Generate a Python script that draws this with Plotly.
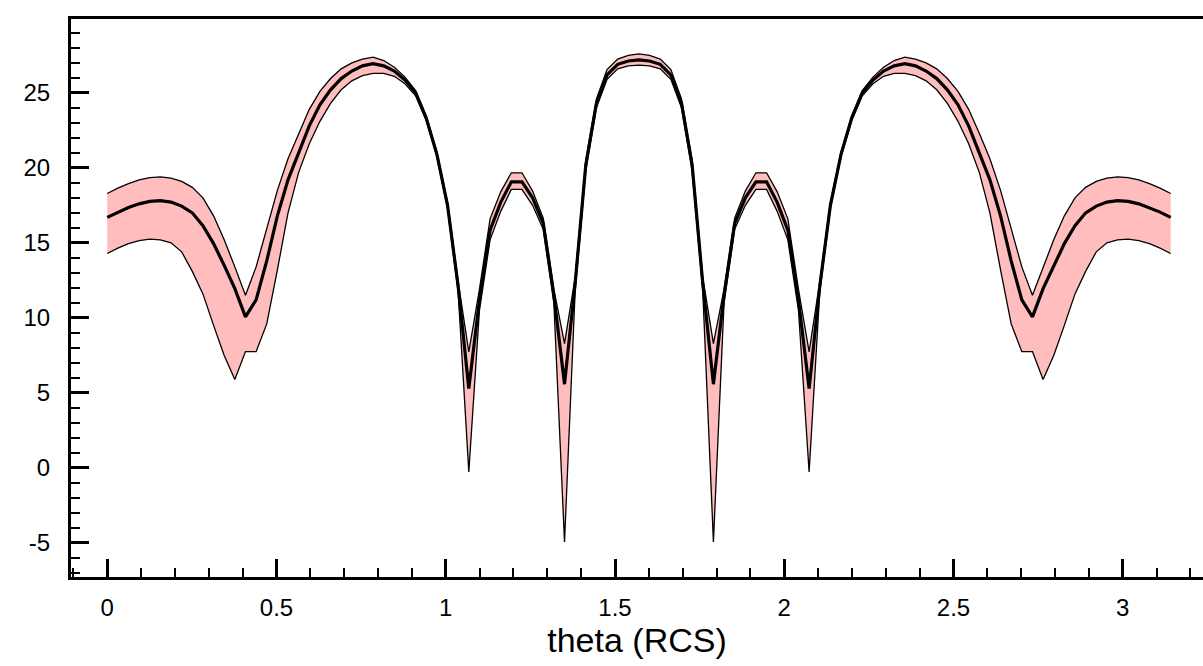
import numpy as np
import plotly.graph_objects as go

# Sample grid: 101 look angles from 0 to pi
theta = np.linspace(0.0, np.pi, 101)

# Mean RCS (dB) and the upper / lower envelope of the spread
rcs_mean = [
    16.70, 17.05, 17.35, 17.60, 17.76, 17.82, 17.72, 17.45, 17.00, 16.15,
    14.95, 13.50, 11.95, 10.07, 11.20, 13.80, 16.80, 19.20, 21.00, 22.80,
    24.20, 25.20, 25.95, 26.45, 26.80, 26.95, 26.80, 26.45, 25.85, 25.00,
    23.30, 20.90, 17.50, 12.10, 5.29, 11.20, 15.85, 17.70, 19.07, 19.07,
    18.00, 16.30, 11.50, 5.58, 12.30, 20.20, 24.30, 26.20, 26.90, 27.12,
    27.20,
    27.12, 26.90, 26.20, 24.30, 20.20, 12.30, 5.58, 11.50, 16.30, 18.00,
    19.07, 19.07, 17.70, 15.85, 11.20, 5.29, 12.10, 17.50, 20.90, 23.30,
    25.00, 25.85, 26.45, 26.80, 26.95, 26.80, 26.45, 25.95, 25.20, 24.20,
    22.80, 21.00, 19.20, 16.80, 13.80, 11.20, 10.07, 11.95, 13.50, 14.95,
    16.15, 17.00, 17.45, 17.72, 17.82, 17.76, 17.60, 17.35, 17.05, 16.70,
]

rcs_upper = [
    18.29, 18.65, 18.95, 19.20, 19.35, 19.40, 19.32, 19.10, 18.70, 18.00,
    16.80, 15.20, 13.40, 11.51, 13.40, 15.90, 18.50, 20.60, 22.30, 23.90,
    25.10, 25.95, 26.60, 27.00, 27.25, 27.38, 27.15, 26.70, 26.05, 25.15,
    23.45, 21.05, 17.70, 12.40, 7.73, 11.90, 16.60, 18.40, 19.67, 19.67,
    18.45, 16.65, 11.90, 8.29, 12.70, 20.50, 24.60, 26.55, 27.25, 27.50,
    27.60,
    27.50, 27.25, 26.55, 24.60, 20.50, 12.70, 8.29, 11.90, 16.65, 18.45,
    19.67, 19.67, 18.40, 16.60, 11.90, 7.73, 12.40, 17.70, 21.05, 23.45,
    25.15, 26.05, 26.70, 27.15, 27.38, 27.25, 27.00, 26.60, 25.95, 25.10,
    23.90, 22.30, 20.60, 18.50, 15.90, 13.40, 11.51, 13.40, 15.20, 16.80,
    18.00, 18.70, 19.10, 19.32, 19.40, 19.35, 19.20, 18.95, 18.65, 18.29,
]

rcs_lower = [
    14.29, 14.65, 14.95, 15.15, 15.25, 15.20, 15.00, 14.40, 13.10, 11.60,
    9.50, 7.50, 5.90, 7.75, 7.75, 9.60, 13.20, 17.00, 19.70, 21.60,
    23.10, 24.30, 25.20, 25.80, 26.15, 26.30, 26.30, 26.10, 25.60, 24.80,
    23.15, 20.75, 17.30, 11.70, -0.27, 10.50, 15.20, 17.10, 18.56, 18.56,
    17.50, 15.90, 11.00, -4.93, 11.80, 19.80, 24.00, 25.90, 26.60, 26.80,
    26.85,
    26.80, 26.60, 25.90, 24.00, 19.80, 11.80, -4.93, 11.00, 15.90, 17.50,
    18.56, 18.56, 17.10, 15.20, 10.50, -0.27, 11.70, 17.30, 20.75, 23.15,
    24.80, 25.60, 26.10, 26.30, 26.30, 26.15, 25.80, 25.20, 24.30, 23.10,
    21.60, 19.70, 17.00, 13.20, 9.60, 7.75, 7.75, 5.90, 7.50, 9.50,
    11.60, 13.10, 14.40, 15.00, 15.20, 15.25, 15.15, 14.95, 14.65, 14.29,
]

x_tick_vals = [0, 0.5, 1, 1.5, 2, 2.5, 3]
x_tick_text = ["0", "0.5", "1", "1.5", "2", "2.5", "3"]
y_tick_vals = [-5, 0, 5, 10, 15, 20, 25]
y_tick_text = ["-5", "0", "5", "10", "15", "20", "25"]

FONT = "Liberation Sans, Arial, Helvetica, sans-serif"
BAND_FILL = "#ffbdbd"

fig = go.Figure()

# lower envelope
fig.add_trace(go.Scatter(
    x=theta, y=rcs_lower, mode="lines",
    line=dict(color="black", width=1.3),
    showlegend=False, hoverinfo="skip",
))
# upper envelope, shaded down to the lower one
fig.add_trace(go.Scatter(
    x=theta, y=rcs_upper, mode="lines",
    fill="tonexty", fillcolor=BAND_FILL,
    line=dict(color="black", width=1.3),
    showlegend=False, hoverinfo="skip",
))
# mean curve
fig.add_trace(go.Scatter(
    x=theta, y=rcs_mean, mode="lines",
    line=dict(color="black", width=3.2),
    showlegend=False,
))

fig.update_layout(
    width=1203, height=666,
    margin=dict(l=71, r=0, t=19, b=89),
    paper_bgcolor="white", plot_bgcolor="white",
    font=dict(family=FONT, size=24, color="black"),
)

fig.update_xaxes(
    range=[-0.107, 3.237],
    showgrid=False, zeroline=False,
    showline=True, linecolor="black", linewidth=3, mirror=True,
    ticks="inside", ticklen=18, tickwidth=3, tickcolor="black",
    tickvals=x_tick_vals, ticktext=x_tick_text,
    ticklabelstandoff=7,
    minor=dict(tick0=0, dtick=0.1, ticks="inside", ticklen=9,
               tickwidth=2, tickcolor="black"),
    title=dict(text="theta (RCS)", font=dict(family=FONT, size=34),
               standoff=7),
)

fig.update_yaxes(
    range=[-7.27, 29.92],
    showgrid=False, zeroline=False,
    showline=True, linecolor="black", linewidth=3, mirror=False,
    ticks="inside", ticklen=18, tickwidth=3, tickcolor="black",
    tickvals=y_tick_vals, ticktext=y_tick_text,
    ticklabelstandoff=13,
    minor=dict(tick0=0, dtick=1, ticks="inside", ticklen=9,
               tickwidth=2, tickcolor="black"),
)

fig.write_html("out.html")
